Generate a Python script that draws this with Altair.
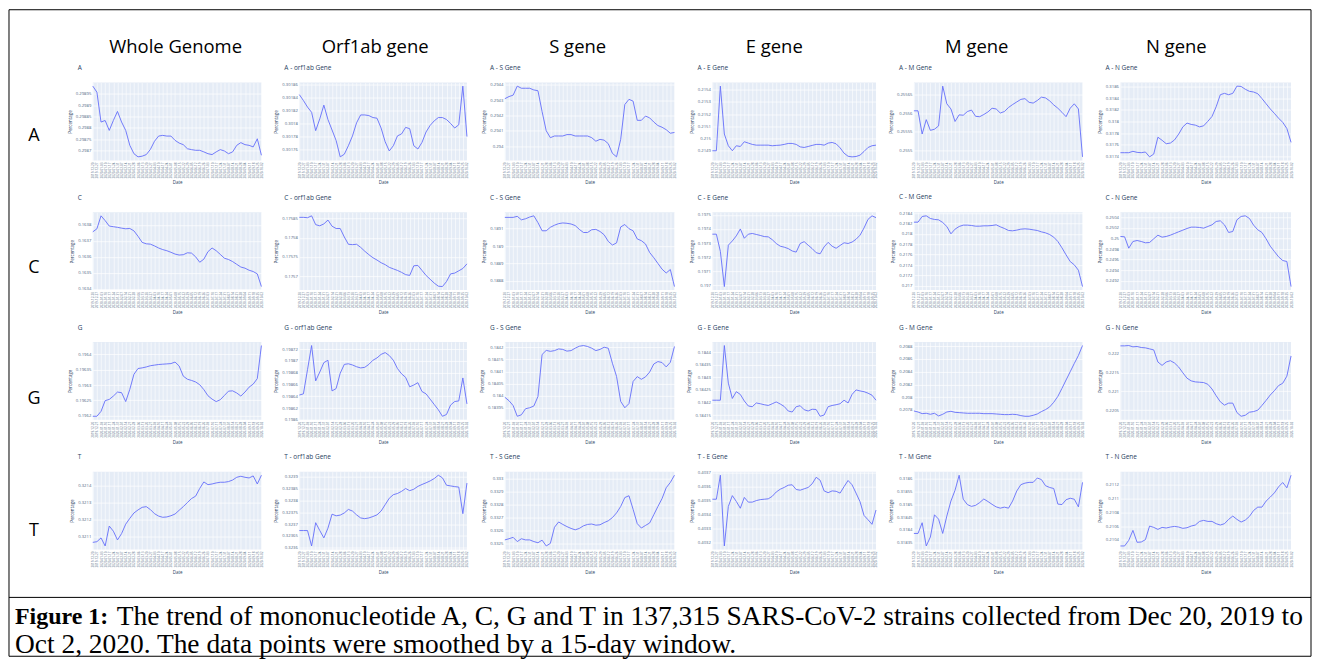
import altair as alt
import pandas as pd

# ---------------- data ----------------
DATES = [d.strftime("%Y-%m-%d") for d in pd.date_range("2019-12-20", periods=42, freq="7D")]

ROW_LETTERS = ["A", "C", "G", "T"]
COL_HEADERS = ["Whole Genome", "Orf1ab gene", "S gene", "E gene", "M gene", "N gene"]
GENE_NAMES = ["", "orf1ab", "S", "E", "M", "N"]

A_WHOLE = [0.298984, 0.298957, 0.298825, 0.298832, 0.298788, 0.298832, 0.298872, 0.298825, 0.298788, 0.298722,
           0.298685, 0.298671, 0.298674, 0.298681, 0.298704, 0.298740, 0.298763, 0.298766, 0.298763, 0.298763,
           0.298744, 0.298732, 0.298725, 0.298707, 0.298703, 0.298700, 0.298700, 0.298693, 0.298685, 0.298681,
           0.298693, 0.298703, 0.298697, 0.298685, 0.298693, 0.298722, 0.298734, 0.298725, 0.298722, 0.298715,
           0.298751, 0.298678]
A_ORF = [0.301844, 0.301835, 0.301825, 0.301817, 0.301789, 0.301807, 0.301828, 0.301806, 0.301790, 0.301774,
         0.301749, 0.301753, 0.301766, 0.301781, 0.301801, 0.301813, 0.301813, 0.301812, 0.301809, 0.301808,
         0.301793, 0.301772, 0.301758, 0.301766, 0.301781, 0.301784, 0.301794, 0.301792, 0.301766, 0.301761,
         0.301771, 0.301787, 0.301797, 0.301804, 0.301809, 0.301809, 0.301806, 0.301800, 0.301793, 0.301798,
         0.301857, 0.301780]
A_S = [0.294309, 0.294323, 0.294332, 0.294391, 0.294377, 0.294377, 0.294377, 0.294366, 0.294361, 0.294225,
       0.294100, 0.294055, 0.294066, 0.294066, 0.294066, 0.294075, 0.294075, 0.294066, 0.294066, 0.294066,
       0.294066, 0.294055, 0.294032, 0.294044, 0.294039, 0.294016, 0.293953, 0.293930, 0.294044, 0.294271,
       0.294305, 0.294293, 0.294168, 0.294168, 0.294196, 0.294184, 0.294157, 0.294134, 0.294123, 0.294107,
       0.294084, 0.294089]
A_E = [0.214900, 0.214900, 0.215430, 0.215037, 0.214941, 0.214900, 0.214941, 0.214935, 0.214974, 0.214963,
       0.214952, 0.214946, 0.214946, 0.214946, 0.214946, 0.214941, 0.214944, 0.214946, 0.214952, 0.214960,
       0.214960, 0.214952, 0.214932, 0.214927, 0.214935, 0.214944, 0.214952, 0.214952, 0.214946, 0.214963,
       0.214968, 0.214957, 0.214924, 0.214880, 0.214855, 0.214850, 0.214853, 0.214864, 0.214894, 0.214927,
       0.214941, 0.214946]
A_M = [0.255607, 0.255607, 0.255544, 0.255583, 0.255554, 0.255557, 0.255566, 0.255674, 0.255626, 0.255612,
       0.255578, 0.255596, 0.255595, 0.255605, 0.255609, 0.255592, 0.255591, 0.255597, 0.255604, 0.255614,
       0.255612, 0.255601, 0.255605, 0.255616, 0.255624, 0.255631, 0.255638, 0.255640, 0.255630, 0.255628,
       0.255635, 0.255644, 0.255642, 0.255634, 0.255623, 0.255614, 0.255603, 0.255591, 0.255614, 0.255626,
       0.255612, 0.255482]
A_N = [0.317460, 0.317460, 0.317460, 0.317484, 0.317466, 0.317460, 0.317472, 0.317388, 0.317436, 0.317728,
       0.317675, 0.317615, 0.317627, 0.317681, 0.317782, 0.317907, 0.317973, 0.317949, 0.317937, 0.317907,
       0.317925, 0.318003, 0.318087, 0.318254, 0.318463, 0.318487, 0.318463, 0.318487, 0.318612, 0.318606,
       0.318558, 0.318522, 0.318510, 0.318481, 0.318397, 0.318307, 0.318218, 0.318140, 0.318057, 0.317985,
       0.317878, 0.317639]

C_WHOLE = [0.163757, 0.163776, 0.163857, 0.163827, 0.163793, 0.163789, 0.163785, 0.163780, 0.163776, 0.163778,
           0.163763, 0.163729, 0.163691, 0.163682, 0.163680, 0.163669, 0.163656, 0.163646, 0.163639, 0.163629,
           0.163618, 0.163612, 0.163614, 0.163626, 0.163624, 0.163601, 0.163567, 0.163586, 0.163633, 0.163656,
           0.163639, 0.163616, 0.163592, 0.163584, 0.163571, 0.163554, 0.163537, 0.163530, 0.163517, 0.163509,
           0.163494, 0.163415]
C_ORF = [0.175853, 0.175853, 0.175852, 0.175857, 0.175834, 0.175831, 0.175836, 0.175846, 0.175830, 0.175824,
         0.175824, 0.175802, 0.175783, 0.175782, 0.175783, 0.175775, 0.175765, 0.175756, 0.175748, 0.175742,
         0.175735, 0.175730, 0.175723, 0.175719, 0.175715, 0.175710, 0.175704, 0.175702, 0.175727, 0.175728,
         0.175715, 0.175702, 0.175692, 0.175682, 0.175674, 0.175673, 0.175686, 0.175706, 0.175708, 0.175714,
         0.175720, 0.175732]
C_S = [0.189165, 0.189165, 0.189165, 0.189171, 0.189151, 0.189157, 0.189167, 0.189174, 0.189135, 0.189088,
       0.189088, 0.189108, 0.189120, 0.189129, 0.189133, 0.189131, 0.189127, 0.189118, 0.189096, 0.189078,
       0.189078, 0.189094, 0.189096, 0.189084, 0.189065, 0.189027, 0.189006, 0.189018, 0.189110, 0.189124,
       0.189100, 0.189088, 0.189041, 0.189031, 0.189012, 0.188963, 0.188933, 0.188900, 0.188867, 0.188845,
       0.188865, 0.188767]
C_E = [0.197363, 0.197363, 0.197241, 0.196992, 0.197285, 0.197315, 0.197351, 0.197400, 0.197334, 0.197363,
       0.197368, 0.197361, 0.197354, 0.197346, 0.197344, 0.197324, 0.197297, 0.197278, 0.197271, 0.197261,
       0.197244, 0.197236, 0.197297, 0.197310, 0.197285, 0.197261, 0.197232, 0.197224, 0.197273, 0.197305,
       0.197278, 0.197263, 0.197283, 0.197302, 0.197297, 0.197307, 0.197327, 0.197356, 0.197407, 0.197468,
       0.197493, 0.197480]
C_M = [0.218224, 0.218224, 0.218333, 0.218346, 0.218295, 0.218276, 0.218269, 0.218218, 0.218141, 0.218000,
       0.218090, 0.218141, 0.218167, 0.218167, 0.218160, 0.218147, 0.218147, 0.218154, 0.218154, 0.218160,
       0.218173, 0.218135, 0.218103, 0.218064, 0.218058, 0.218071, 0.218090, 0.218096, 0.218090, 0.218077,
       0.218064, 0.218038, 0.218019, 0.217987, 0.217936, 0.217853, 0.217731, 0.217596, 0.217468, 0.217404,
       0.217301, 0.216987]
C_N = [0.250038, 0.250032, 0.249816, 0.249943, 0.249962, 0.249943, 0.249918, 0.249924, 0.249994, 0.250063,
       0.250025, 0.250038, 0.250063, 0.250095, 0.250127, 0.250158, 0.250190, 0.250215, 0.250215, 0.250209,
       0.250196, 0.250228, 0.250259, 0.250323, 0.250335, 0.250259, 0.250114, 0.250133, 0.250354, 0.250418,
       0.250430, 0.250380, 0.250253, 0.250165, 0.250114, 0.249994, 0.249854, 0.249753, 0.249652, 0.249582,
       0.249563, 0.249088]

G_WHOLE = [0.196198, 0.196198, 0.196214, 0.196249, 0.196253, 0.196264, 0.196277, 0.196275, 0.196246, 0.196286,
           0.196335, 0.196354, 0.196356, 0.196359, 0.196363, 0.196365, 0.196367, 0.196368, 0.196369, 0.196370,
           0.196375, 0.196362, 0.196329, 0.196319, 0.196315, 0.196310, 0.196301, 0.196285, 0.196265, 0.196254,
           0.196246, 0.196252, 0.196266, 0.196280, 0.196281, 0.196274, 0.196264, 0.196277, 0.196293, 0.196303,
           0.196321, 0.196429]
G_ORF = [0.198642, 0.198644, 0.198685, 0.198726, 0.198666, 0.198681, 0.198697, 0.198701, 0.198649, 0.198653,
         0.198679, 0.198694, 0.198695, 0.198693, 0.198690, 0.198688, 0.198689, 0.198694, 0.198701, 0.198705,
         0.198711, 0.198714, 0.198709, 0.198701, 0.198687, 0.198678, 0.198672, 0.198656, 0.198659, 0.198663,
         0.198648, 0.198644, 0.198635, 0.198626, 0.198617, 0.198606, 0.198609, 0.198625, 0.198631, 0.198632,
         0.198671, 0.198627]
G_S = [0.183994, 0.183980, 0.183960, 0.183916, 0.183922, 0.183947, 0.183951, 0.183958, 0.183997, 0.184170,
       0.184187, 0.184183, 0.184186, 0.184193, 0.184191, 0.184184, 0.184186, 0.184196, 0.184204, 0.184207,
       0.184203, 0.184196, 0.184186, 0.184191, 0.184200, 0.184196, 0.184134, 0.184080, 0.183977, 0.183951,
       0.183968, 0.184059, 0.184079, 0.184068, 0.184078, 0.184098, 0.184131, 0.184141, 0.184137, 0.184119,
       0.184138, 0.184203]
G_E = [0.184209, 0.184209, 0.184209, 0.184427, 0.184277, 0.184216, 0.184243, 0.184232, 0.184206, 0.184186,
       0.184183, 0.184198, 0.184195, 0.184191, 0.184188, 0.184195, 0.184202, 0.184194, 0.184184, 0.184166,
       0.184162, 0.184183, 0.184187, 0.184171, 0.184166, 0.184173, 0.184172, 0.184145, 0.184150, 0.184183,
       0.184188, 0.184191, 0.184195, 0.184209, 0.184198, 0.184232, 0.184250, 0.184246, 0.184243, 0.184237,
       0.184229, 0.184209]
G_M = [0.207784, 0.207768, 0.207742, 0.207748, 0.207732, 0.207748, 0.207706, 0.207732, 0.207768, 0.207779,
       0.207763, 0.207758, 0.207753, 0.207748, 0.207748, 0.207748, 0.207748, 0.207742, 0.207742, 0.207742,
       0.207737, 0.207732, 0.207727, 0.207727, 0.207732, 0.207727, 0.207711, 0.207701, 0.207701, 0.207716,
       0.207737, 0.207774, 0.207805, 0.207847, 0.207920, 0.208013, 0.208138, 0.208269, 0.208399, 0.208529,
       0.208654, 0.208810]
G_N = [0.222205, 0.222205, 0.222214, 0.222179, 0.222188, 0.222161, 0.222152, 0.222125, 0.222098, 0.221777,
       0.221687, 0.221777, 0.221812, 0.221750, 0.221643, 0.221491, 0.221348, 0.221277, 0.221250, 0.221241,
       0.221232, 0.221187, 0.221062, 0.220884, 0.220723, 0.220634, 0.220687, 0.220687, 0.220437, 0.220339,
       0.220366, 0.220446, 0.220464, 0.220500, 0.220625, 0.220759, 0.220902, 0.221018, 0.221152, 0.221214,
       0.221402, 0.221937]

T_WHOLE = [0.321068, 0.321072, 0.321094, 0.321047, 0.321163, 0.321133, 0.321082, 0.321119, 0.321174, 0.321208,
           0.321239, 0.321257, 0.321272, 0.321276, 0.321259, 0.321235, 0.321221, 0.321214, 0.321216, 0.321223,
           0.321233, 0.321255, 0.321276, 0.321300, 0.321323, 0.321337, 0.321382, 0.321420, 0.321404, 0.321408,
           0.321414, 0.321418, 0.321418, 0.321422, 0.321431, 0.321447, 0.321453, 0.321447, 0.321443, 0.321455,
           0.321408, 0.321459]
T_ORF = [0.323673, 0.323673, 0.323673, 0.323608, 0.323706, 0.323673, 0.323642, 0.323683, 0.323742, 0.323735,
         0.323738, 0.323747, 0.323762, 0.323755, 0.323739, 0.323726, 0.323723, 0.323726, 0.323732, 0.323739,
         0.323755, 0.323782, 0.323809, 0.323824, 0.323829, 0.323838, 0.323850, 0.323841, 0.323847, 0.323859,
         0.323867, 0.323874, 0.323882, 0.323892, 0.323906, 0.323895, 0.323864, 0.323861, 0.323858, 0.323856,
         0.323744, 0.323873]
T_S = [0.332527, 0.332536, 0.332547, 0.332514, 0.332536, 0.332527, 0.332527, 0.332514, 0.332505, 0.332525,
       0.332480, 0.332500, 0.332625, 0.332666, 0.332647, 0.332630, 0.332616, 0.332605, 0.332616, 0.332636,
       0.332647, 0.332650, 0.332641, 0.332644, 0.332661, 0.332675, 0.332700, 0.332736, 0.332786, 0.332855,
       0.332869, 0.332764, 0.332653, 0.332619, 0.332639, 0.332658, 0.332722, 0.332786, 0.332847, 0.332931,
       0.332972, 0.333028]
T_E = [0.403511, 0.403511, 0.403684, 0.403174, 0.403459, 0.403537, 0.403495, 0.403446, 0.403524, 0.403490,
       0.403490, 0.403501, 0.403508, 0.403511, 0.403514, 0.403532, 0.403563, 0.403583, 0.403596, 0.403612,
       0.403615, 0.403581, 0.403576, 0.403586, 0.403596, 0.403622, 0.403669, 0.403648, 0.403571, 0.403558,
       0.403571, 0.403568, 0.403555, 0.403602, 0.403646, 0.403615, 0.403555, 0.403493, 0.403394, 0.403363,
       0.403330, 0.403433]
T_M = [0.318386, 0.318386, 0.318428, 0.318337, 0.318372, 0.318459, 0.318442, 0.318386, 0.318454, 0.318513,
       0.318555, 0.318614, 0.318520, 0.318499, 0.318492, 0.318496, 0.318507, 0.318521, 0.318511, 0.318500,
       0.318490, 0.318485, 0.318489, 0.318485, 0.318513, 0.318552, 0.318577, 0.318583, 0.318586, 0.318586,
       0.318603, 0.318597, 0.318573, 0.318566, 0.318562, 0.318501, 0.318499, 0.318518, 0.318524, 0.318520,
       0.318490, 0.318586]
T_N = [0.210314, 0.210314, 0.210395, 0.210539, 0.210367, 0.210371, 0.210405, 0.210601, 0.210582, 0.210553,
       0.210582, 0.210573, 0.210587, 0.210596, 0.210587, 0.210568, 0.210577, 0.210601, 0.210616, 0.210668,
       0.210683, 0.210668, 0.210668, 0.210635, 0.210616, 0.210635, 0.210697, 0.210745, 0.210697, 0.210659,
       0.210687, 0.210740, 0.210826, 0.210874, 0.210874, 0.210961, 0.211018, 0.211080, 0.211166, 0.211229,
       0.211152, 0.211334]

SERIES = {
    "A": [A_WHOLE, A_ORF, A_S, A_E, A_M, A_N],
    "C": [C_WHOLE, C_ORF, C_S, C_E, C_M, C_N],
    "G": [G_WHOLE, G_ORF, G_S, G_E, G_M, G_N],
    "T": [T_WHOLE, T_ORF, T_S, T_E, T_M, T_N],
}

CAPTION_BOLD = "Figure 1:"
CAPTION_LINE1 = ("The trend of mononucleotide A, C, G and T in 137,315 SARS-CoV-2 strains "
                 "collected from Dec 20, 2019 to")
CAPTION_LINE2 = "Oct 2, 2020. The data points were smoothed by a 15-day window."

# ---------------- layout / style ----------------
COL_WIDTHS = [169, 168, 170, 164, 169, 171]
HEADER_X = [83, 76, 73, 62, 63, 56]
ROW_LABEL_Y = [54, 56, 57, 59]
LABEL_W = 46
HEADER_H = 21
PANEL_H = 78
FULL_W = 1305
FULL_H = 648

PANEL_FONT = "Open Sans"
LINE_COLOR = "#636efa"
BG = "#E5ECF6"
TXT = "#2a3f5f"
TICK_TXT = "#506784"
CAP_SIZE = 27.5
CAP_BOLD_SIZE = 24


def panel(values, title, width):
    n = len(values)
    df = pd.DataFrame({"Date": DATES[:n], "Percentage": values})
    lo, hi = min(values), max(values)
    pad = (hi - lo) * 0.05
    x_axis = alt.Axis(title="Date", labelAngle=-90, labelFontSize=3.1, labelOverlap=False,
                      labelPadding=1.5, grid=True, gridColor="white", gridWidth=0.6,
                      domain=False, ticks=False, titleFontSize=4.5, titlePadding=2,
                      labelColor=TICK_TXT, titleColor=TXT, labelFont=PANEL_FONT,
                      titleFont=PANEL_FONT, titleFontWeight="normal")
    y_axis = alt.Axis(title="Percentage", format="~r", tickCount=6, labelFontSize=4.2,
                      labelPadding=2, grid=True, gridColor="white", gridWidth=0.7,
                      domain=False, ticks=False, titleFontSize=4.5, titlePadding=3,
                      labelColor=TICK_TXT, titleColor=TXT, labelFont=PANEL_FONT,
                      titleFont=PANEL_FONT, titleFontWeight="normal")
    return alt.Chart(df).mark_line(color=LINE_COLOR, strokeWidth=0.9).encode(
        x=alt.X("Date:O", sort=None, scale=alt.Scale(padding=0), axis=x_axis),
        y=alt.Y("Percentage:Q", scale=alt.Scale(domain=[lo - pad, hi + pad], zero=False, nice=False),
                axis=y_axis),
    ).properties(
        width=width, height=PANEL_H,
        title=alt.TitleParams(title, anchor="start", frame="group", dx=-15, offset=11,
                              fontSize=6.5, font=PANEL_FONT, fontWeight="normal", color=TXT),
        view=alt.ViewBackground(fill=BG, strokeWidth=0),
    )


def text_cell(label, x, y, width, height, size):
    return alt.Chart(pd.DataFrame({"t": [label]})).mark_text(
        font="Open Sans", fontSize=size, color="black", align="center", baseline="middle"
    ).encode(text="t:N", x=alt.value(x), y=alt.value(y)).properties(width=width, height=height)


# decoration cell: frame, separator and caption
base = alt.Chart(pd.DataFrame({"t": [""]}))
frame_layers = [
    base.mark_rule(color="black", strokeWidth=1).encode(x=alt.value(0), x2=alt.value(FULL_W), y=alt.value(0)),
    base.mark_rule(color="black", strokeWidth=1).encode(x=alt.value(0), x2=alt.value(FULL_W), y=alt.value(FULL_H)),
    base.mark_rule(color="black", strokeWidth=1).encode(x=alt.value(0), x2=alt.value(FULL_W), y=alt.value(589)),
    base.mark_rule(color="black", strokeWidth=1).encode(x=alt.value(0), y=alt.value(0), y2=alt.value(FULL_H)),
    base.mark_rule(color="black", strokeWidth=1).encode(x=alt.value(FULL_W), y=alt.value(0), y2=alt.value(FULL_H)),
    base.mark_text(font="Liberation Serif", fontSize=CAP_BOLD_SIZE, fontWeight="bold", align="left",
                   baseline="middle", color="black").encode(
        text=alt.value(CAPTION_BOLD), x=alt.value(6), y=alt.value(609)),
    base.mark_text(font="Liberation Serif", fontSize=CAP_SIZE, align="left",
                   baseline="middle", color="black").encode(
        text=alt.value(CAPTION_LINE1), x=alt.value(108), y=alt.value(609)),
    base.mark_text(font="Liberation Serif", fontSize=CAP_SIZE, align="left",
                   baseline="middle", color="black").encode(
        text=alt.value(CAPTION_LINE2), x=alt.value(6), y=alt.value(637)),
]
decor = alt.layer(*frame_layers).properties(width=LABEL_W, height=HEADER_H)

cells = [decor]
for i, h in enumerate(COL_HEADERS):
    cells.append(text_cell(h, HEADER_X[i], 37, COL_WIDTHS[i], HEADER_H, 18.5))

for r, letter in enumerate(ROW_LETTERS):
    cells.append(text_cell(letter, 25, ROW_LABEL_Y[r], LABEL_W, PANEL_H, 18))
    for c in range(6):
        if c == 0:
            ttl = letter
        else:
            ttl = f"{letter} - {GENE_NAMES[c]} Gene"
        cells.append(panel(SERIES[letter][c], ttl, COL_WIDTHS[c]))

chart = alt.concat(
    *cells, columns=7, spacing={"row": 52, "column": 38}, bounds="flush"
).properties(
    padding=0, background="white"
).configure_view(strokeWidth=0)

chart.save("out.html", embed_options={"renderer": "svg", "actions": False})
